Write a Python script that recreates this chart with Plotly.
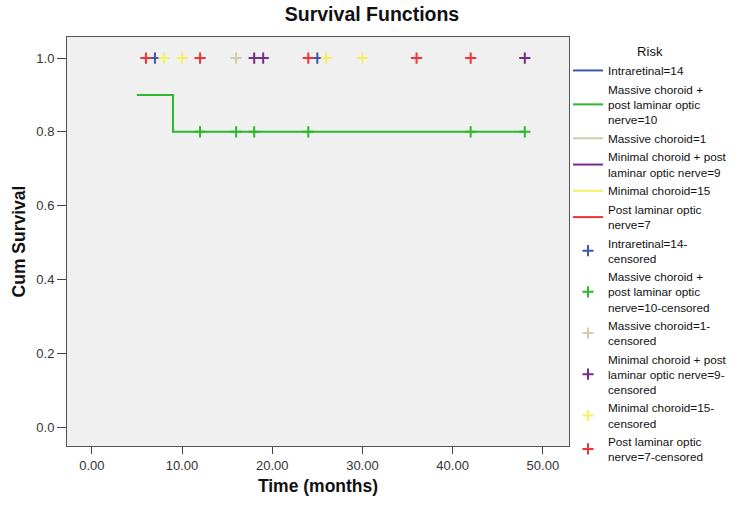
import plotly.graph_objects as go

# ---- data ----
groups = [
    "Intraretinal=14",
    "Massive choroid +<br>post laminar optic<br>nerve=10",
    "Massive choroid=1",
    "Minimal choroid + post<br>laminar optic nerve=9",
    "Minimal choroid=15",
    "Post laminar optic<br>nerve=7",
]
censored_labels = [
    "Intraretinal=14-<br>censored",
    "Massive choroid +<br>post laminar optic<br>nerve=10-censored",
    "Massive choroid=1-<br>censored",
    "Minimal choroid + post<br>laminar optic nerve=9-<br>censored",
    "Minimal choroid=15-<br>censored",
    "Post laminar optic<br>nerve=7-censored",
]
colors = ["#3E58AC", "#2EB82E", "#D2CCAA", "#742C88", "#F5F060", "#EF3338"]

# step curve (only group with events)
mc_times = [5, 9, 48]
mc_surv = [0.9, 0.8, 0.8]

# censored times and survival at censoring
cens_times = [
    [7, 25],
    [12, 16, 18, 24, 42, 48],
    [16],
    [18, 19, 48],
    [8, 10, 26, 30],
    [6, 12, 24, 36, 42],
]
cens_surv = [
    [1.0, 1.0],
    [0.8, 0.8, 0.8, 0.8, 0.8, 0.8],
    [1.0],
    [1.0, 1.0, 1.0],
    [1.0, 1.0, 1.0, 1.0],
    [1.0, 1.0, 1.0, 1.0, 1.0],
]

x_ticks = [0, 10, 20, 30, 40, 50]
x_tick_labels = ["0.00", "10.00", "20.00", "30.00", "40.00", "50.00"]
y_ticks = [0.0, 0.2, 0.4, 0.6, 0.8, 1.0]
y_tick_labels = ["0.0", "0.2", "0.4", "0.6", "0.8", "1.0"]

FONT = "Arial, Liberation Sans, sans-serif"

fig = go.Figure()

# survival step lines
for i, name in enumerate(groups):
    if i == 1:
        fig.add_trace(go.Scatter(x=mc_times, y=mc_surv, mode="lines", line_shape="hv",
                                 line=dict(color=colors[i], width=2), name=name))
    else:
        fig.add_trace(go.Scatter(x=[None], y=[None], mode="lines",
                                 line=dict(color=colors[i], width=2), name=name))

# censored markers
for i, name in enumerate(censored_labels):
    fig.add_trace(go.Scatter(x=cens_times[i], y=cens_surv[i], mode="markers", name=name,
                             marker=dict(symbol="cross-thin", size=8,
                                         line=dict(color=colors[i], width=2))))

W, H = 744, 505
L, T, PW, PH = 67, 37, 505, 409

fig.update_layout(
    width=W, height=H,
    margin=dict(l=L, r=W - L - PW, t=T, b=H - T - PH),
    paper_bgcolor="white",
    plot_bgcolor="#F0F0F0",
    font=dict(family=FONT, size=13, color="#333"),
    title=dict(text="<b>Survival Functions</b>", x=0.5, xanchor="center", xref="container",
               y=1 - 14 / H, yanchor="middle", yref="container",
               font=dict(size=19.5, color="#111")),
    showlegend=True,
    legend=dict(x=0.998, xanchor="left", y=0.995, yanchor="top",
                title=dict(text="Risk", side="top center", font=dict(size=13, color="#111")),
                font=dict(size=11.75, color="#111"), bgcolor="rgba(0,0,0,0)",
                tracegroupgap=0, itemwidth=30, maxheight=480),
    xaxis=dict(range=[-2.75, 52.9], tickvals=x_ticks, ticktext=x_tick_labels,
               showgrid=False, zeroline=False, showline=True, linecolor="#555", linewidth=1,
               mirror=True, ticks="outside", ticklen=7, tickcolor="#444",
               tickfont=dict(size=13, color="#333"),
               title=dict(text="<b>Time (months)</b>", font=dict(size=17.5, color="#111"), standoff=8)),
    yaxis=dict(range=[-0.051, 1.057], tickvals=y_ticks, ticktext=y_tick_labels,
               showgrid=False, zeroline=False, showline=True, linecolor="#555", linewidth=1,
               mirror=True, ticks="outside", ticklen=9, tickcolor="#444",
               tickfont=dict(size=13, color="#333"),
               title=dict(text="<b>Cum Survival</b>", font=dict(size=17.5, color="#111"), standoff=6)),
)

fig.write_html("out.html", config={"displayModeBar": False},
               post_script="document.body.style.margin='0';")
